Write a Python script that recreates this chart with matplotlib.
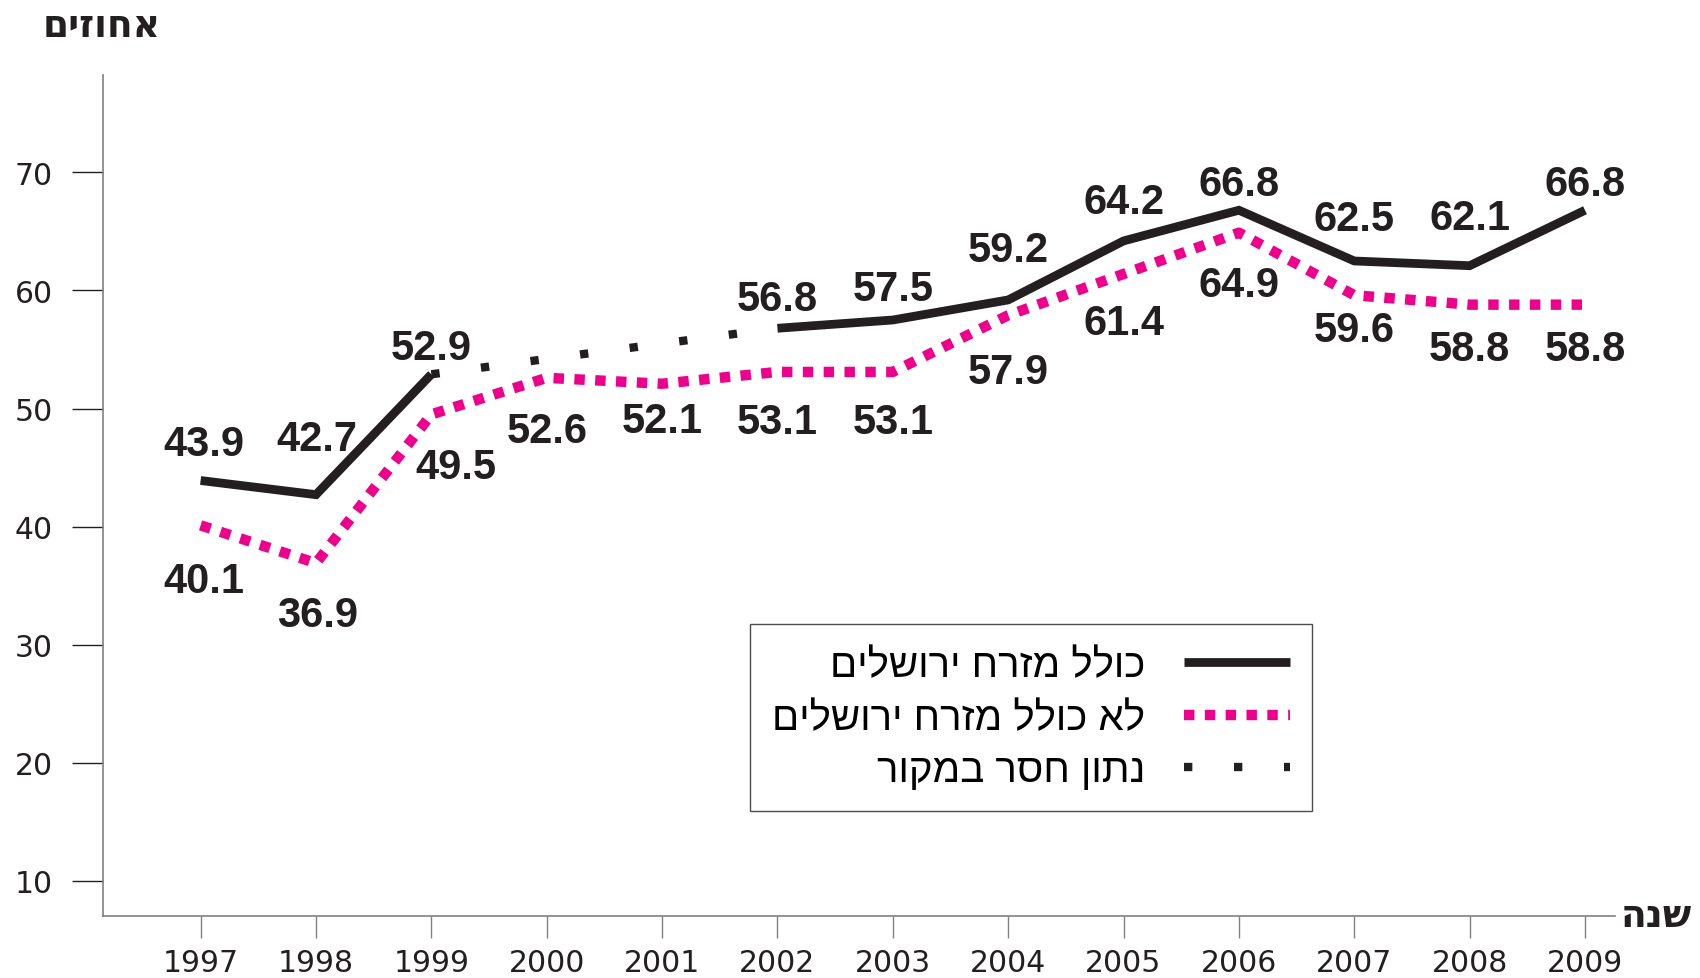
import numpy as np
import matplotlib
matplotlib.use("Agg")
import matplotlib.pyplot as plt
from matplotlib.lines import Line2D

plt.rcParams['font.family'] = ['Liberation Sans', 'DejaVu Sans']

years = [1997, 1998, 1999, 2000, 2001, 2002, 2003, 2004, 2005, 2006, 2007, 2008, 2009]
incl_ej = [43.9, 42.7, 52.9, np.nan, np.nan, 56.8, 57.5, 59.2, 64.2, 66.8, 62.5, 62.1, 66.8]
excl_ej = [40.1, 36.9, 49.5, 52.6, 52.1, 53.1, 53.1, 57.9, 61.4, 64.9, 59.6, 58.8, 58.8]
y_ticks = [10, 20, 30, 40, 50, 60, 70]

lbl_incl = "כולל מזרח ירושלים"
lbl_excl = "לא כולל מזרח ירושלים"
lbl_miss = "נתון חסר במקור"
y_title = "אחוזים"
x_title = "שנה"


def rtl(s):
    # matplotlib has no bidi support
    return s[::-1]


pink = '#EC008C'
ink = '#231f20'

fig = plt.figure(figsize=(17, 9.79), dpi=100)
ax = fig.add_axes([0.0606, 0.0633, 0.8894, 0.8591])

# gap in the source data: dotted link between 1999 and 2002
i0, i1 = 2, 5
ax.plot([years[i0], years[i1]], [incl_ej[i0], incl_ej[i1]], color=ink, lw=6,
        linestyle=(0, (1, 5)), dash_capstyle='butt')
ax.plot(years, excl_ej, color=pink, lw=7.5, linestyle=(0, (1, 1)), dash_capstyle='butt')
ax.plot(years, incl_ej, color=ink, lw=6.3, solid_capstyle='butt', solid_joinstyle='miter')

# label offsets in points (dx, dy)
off_incl = [(2, 26), (1, 40), (0, 19), None, None, (0, 21), (0, 22), (0, 36), (0, 28), (0, 19), (0, 30), (0, 34), (0, 19)]
off_excl = [(2, -40), (1, -37), (18, -38), (0, -38), (0, -27), (0, -36), (0, -36), (0, -41), (0, -35), (0, -38), (0, -25), (0, -32), (0, -32)]

for x, v, o in zip(years, incl_ej, off_incl):
    if o is None or np.isnan(v):
        continue
    ax.annotate(f"{v:.1f}", (x, v), xytext=o, textcoords='offset points',
                ha='center', va='center', fontsize=30, fontweight='bold', color=ink)
for x, v, o in zip(years, excl_ej, off_excl):
    ax.annotate(f"{v:.1f}", (x, v), xytext=o, textcoords='offset points',
                ha='center', va='center', fontsize=30, fontweight='bold', color=ink)

ax.set_xlim(1996.154, 2009.26)
ax.set_ylim(7.0, 78.26)
ax.set_xticks(years)
ax.set_yticks(y_ticks)
ax.tick_params(axis='y', length=22, width=1, color=ink, pad=14, labelsize=21.5)
ax.tick_params(axis='x', length=16, width=1, color='#808080', pad=7, labelsize=21.5)
for lab in ax.get_xticklabels() + ax.get_yticklabels():
    lab.set_fontfamily('DejaVu Sans')
    lab.set_color(ink)
for s in ['top', 'right']:
    ax.spines[s].set_visible(False)
for s in ['left', 'bottom']:
    ax.spines[s].set_color('#808080')
    ax.spines[s].set_linewidth(1.2)

fig.text(102 / 1700, 1 - 27 / 979, rtl(y_title), ha='center', va='center',
         fontsize=27, fontweight='bold', color=ink, family='DejaVu Sans')
fig.text(1692 / 1700, 1 - 917 / 979, rtl(x_title), ha='right', va='center',
         fontsize=27, fontweight='bold', color=ink, family='DejaVu Sans')

handles = [
    Line2D([], [], color=ink, lw=6.3, solid_capstyle='butt'),
    Line2D([], [], color=pink, lw=7.5, linestyle=(0, (1, 1)), dash_capstyle='butt'),
    Line2D([], [], color=ink, lw=6, linestyle=(0, (1, 5)), dash_capstyle='butt'),
]
leg = ax.legend(handles, [rtl(lbl_incl), rtl(lbl_excl), rtl(lbl_miss)],
                loc='upper left', bbox_to_anchor=(0.428, 0.347), markerfirst=False,
                fontsize=29, handlelength=2.65, handletextpad=0.95, labelspacing=0.36,
                borderpad=0.55, borderaxespad=0, fancybox=False, frameon=True)
leg.get_frame().set_edgecolor(ink)
leg.get_frame().set_linewidth(1.0)

fig.savefig('out.png', dpi=100)
